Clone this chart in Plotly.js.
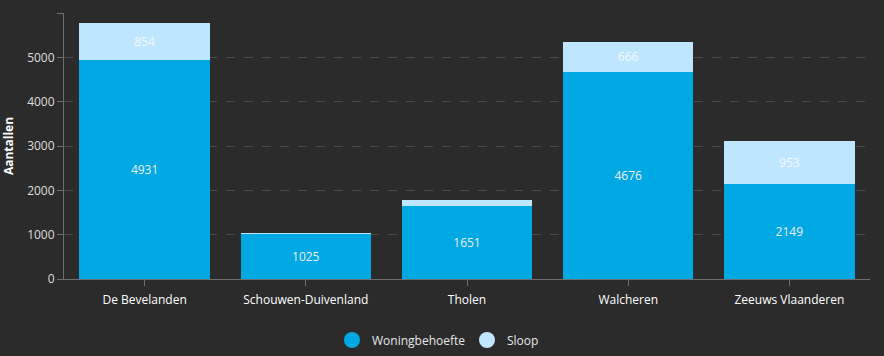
<!DOCTYPE html>
<html>
<head>
<meta charset="utf-8">
<script src="https://cdn.plot.ly/plotly-3.0.1.min.js"></script>
<style>
html,body{margin:0;padding:0;background:#2b2b2b;}
#chart{width:884px;height:356px;}
</style>
</head>
<body>
<div id="chart"></div>
<script>
const categories = ["De Bevelanden", "Schouwen-Duivenland", "Tholen", "Walcheren", "Zeeuws Vlaanderen"];
const woningbehoefte = [4931, 1025, 1651, 4676, 2149];
const sloop = [854, 20, 130, 666, 953];
const tickVals = [0, 1000, 2000, 3000, 4000, 5000, 6000];
const tickText = ["0", "1000", "2000", "3000", "4000", "5000", ""];

const colWon = "#00a8e4";
const colSloop = "#bfe6ff";
const labelOf = v => (v >= 300 ? String(v) : "");

const traces = [
  {
    type: "bar", name: "Woningbehoefte", x: categories, y: woningbehoefte,
    marker: {color: colWon}, text: woningbehoefte.map(labelOf),
    textposition: "inside", insidetextanchor: "middle",
    textfont: {color: "#eeeeee", size: 12, family: "Open Sans, sans-serif"},
    hoverinfo: "skip", showlegend: false
  },
  {
    type: "bar", name: "Sloop", x: categories, y: sloop,
    marker: {color: colSloop}, text: sloop.map(labelOf),
    textposition: "inside", insidetextanchor: "middle",
    textfont: {color: "#f4f8fb", size: 12, family: "Open Sans, sans-serif"},
    hoverinfo: "skip", showlegend: false
  },
  {type: "scatter", mode: "markers", name: "Woningbehoefte", x: [null], y: [null],
   marker: {color: colWon, size: 16, symbol: "circle"}},
  {type: "scatter", mode: "markers", name: "Sloop", x: [null], y: [null],
   marker: {color: colSloop, size: 16, symbol: "circle"}}
];

const layout = {
  width: 884, height: 356,
  paper_bgcolor: "#2b2b2b", plot_bgcolor: "#2b2b2b",
  margin: {l: 64, r: 14, t: 13, b: 77, autoexpand: false},
  barmode: "stack", bargap: 0.19,
  font: {family: "Open Sans, sans-serif", color: "#e6e6e6", size: 12},
  uniformtext: {mode: "show", minsize: 12},
  xaxis: {
    type: "category", showgrid: false, zeroline: false,
    showline: true, linecolor: "#6e6e6e", linewidth: 1,
    ticks: "outside", ticklen: 6, tickcolor: "#6e6e6e",
    tickfont: {color: "#ffffff", size: 12}, ticklabelstandoff: 4
  },
  yaxis: {
    range: [0, 6000], tickvals: tickVals, ticktext: tickText,
    showgrid: true, gridcolor: "#4a4a4a", griddash: "dash", gridwidth: 1,
    zeroline: false, showline: true, linecolor: "#6e6e6e", linewidth: 1,
    ticks: "outside", ticklen: 6, tickcolor: "#6e6e6e",
    tickfont: {color: "#dddddd", size: 12},
    title: {text: "<b>Aantallen</b>", font: {color: "#ffffff", size: 12}, standoff: 12}
  },
  legend: {
    orientation: "h", traceorder: "normal",
    xref: "paper", x: 0.5, xanchor: "center",
    yref: "container", y: 0.045, yanchor: "middle",
    font: {color: "#e6e6e6", size: 12},
    entrywidth: 90, entrywidthmode: "pixels"
  },
  showlegend: true
};

Plotly.newPlot("chart", traces, layout, {displayModeBar: false, staticPlot: true});
</script>
</body>
</html>
